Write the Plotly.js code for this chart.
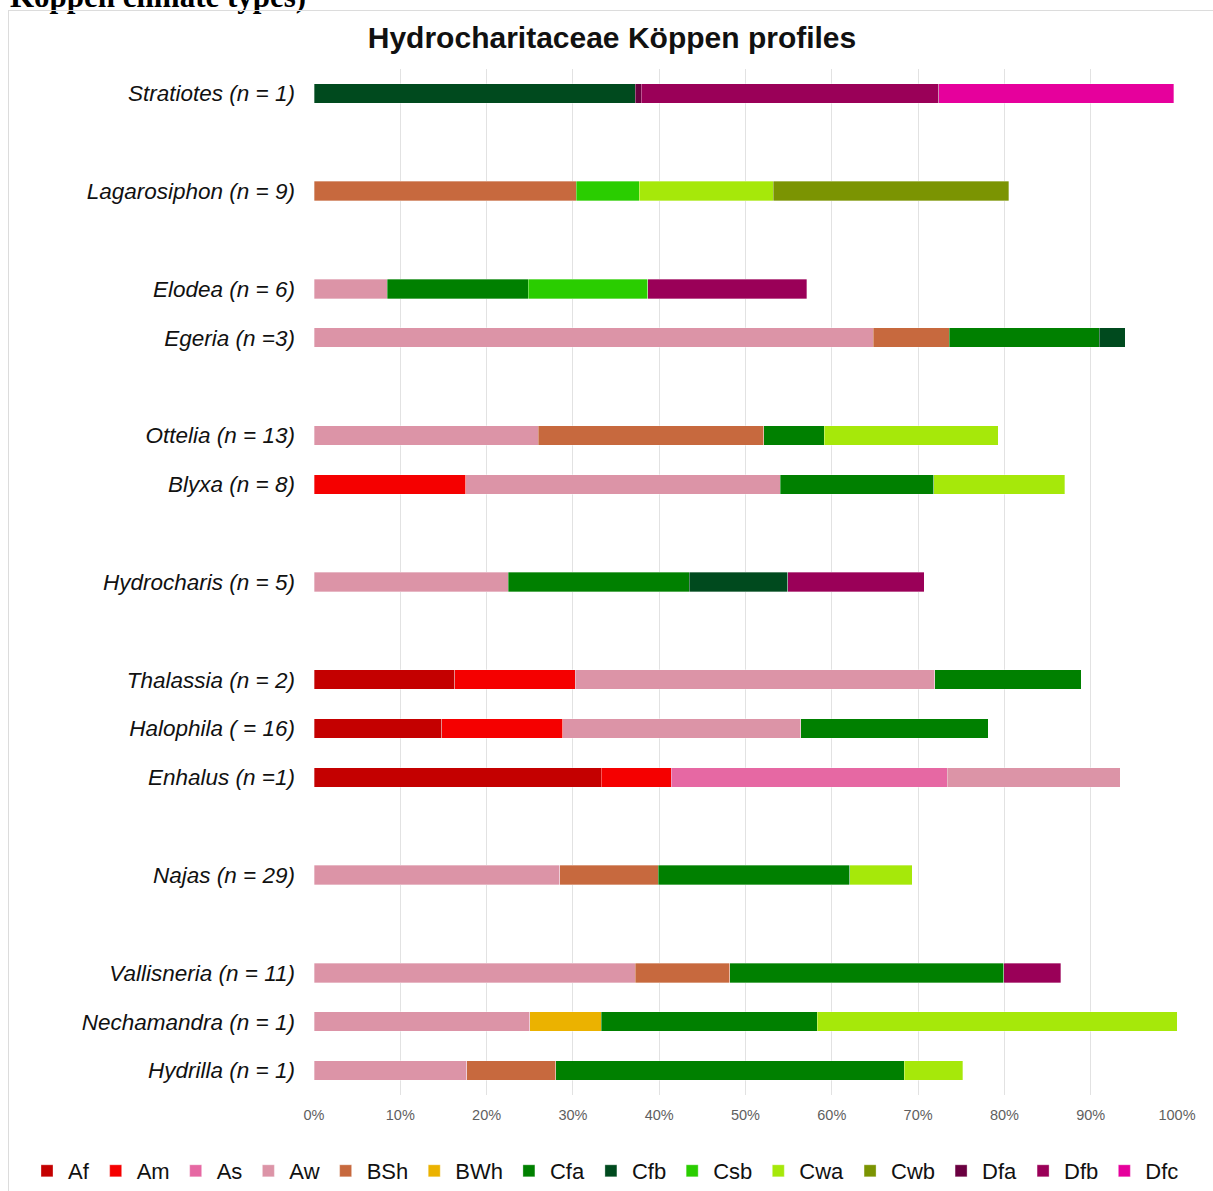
<!DOCTYPE html>
<html>
<head>
<meta charset="utf-8">
<script src="https://cdn.plot.ly/plotly-3.0.1.min.js"></script>
<style>
  html, body { margin: 0; padding: 0; background: #ffffff; overflow: hidden; }
  #wrap { position: relative; width: 1213px; height: 1191px; }
  #frame { position: absolute; left: 8px; top: 10px; width: 1220px; height: 1200px; border: 1px solid #dcdcdc; box-sizing: border-box; pointer-events: none; }
  #chart { position: absolute; left: 0; top: 0; width: 1213px; height: 1191px; }
</style>
</head>
<body>
<div id="wrap">
  <div id="chart"></div>
  <div id="frame"></div>
</div>
<script>
// Row labels, top to bottom ("" = empty spacer row)
const categories = [
  "Stratiotes (n = 1)", "", "Lagarosiphon (n = 9)", "", "Elodea (n = 6)", "Egeria (n =3)", "",
  "Ottelia (n = 13)", "Blyxa (n = 8)", "", "Hydrocharis (n = 5)", "",
  "Thalassia (n = 2)", "Halophila ( = 16)", "Enhalus (n =1)", "", "Najas (n = 29)", "",
  "Vallisneria (n = 11)", "Nechamandra (n = 1)", "Hydrilla (n = 1)"
];

// Percent of occurrences per Köppen class, one value per row above
const Af  = [null,null,null,null,null,null,null,null,null,null,null,null,16.3,14.8,33.3,null,null,null,null,null,null];
const Am  = [null,null,null,null,null,null,null,null,17.6,null,null,null,14.0,14.0,8.1,null,null,null,null,null,null];
const As  = [null,null,null,null,null,null,null,null,null,null,null,null,null,null,32.0,null,null,null,null,null,null];
const Aw  = [null,null,null,null,8.5,64.8,null,26.0,36.4,null,22.5,null,41.6,27.6,20.0,null,28.5,null,37.2,25.0,17.7];
const BSh = [null,null,30.4,null,null,8.8,null,26.1,null,null,null,null,null,null,null,null,11.4,null,11.0,null,10.3];
const BWh = [null,null,null,null,null,null,null,null,null,null,null,null,null,null,null,null,null,null,null,8.3,null];
const Cfa = [null,null,null,null,16.3,17.4,null,7.0,17.8,null,21.0,null,17.0,21.7,null,null,22.2,null,31.7,25.0,40.4];
const Cfb = [37.2,null,null,null,null,3.0,null,null,null,null,11.4,null,null,null,null,null,null,null,null,null,null];
const Csb = [null,null,7.3,null,13.9,null,null,null,null,null,null,null,null,null,null,null,null,null,null,null,null];
const Cwa = [null,null,15.5,null,null,null,null,20.2,15.2,null,null,null,null,null,null,null,7.2,null,null,41.7,6.8];
const Cwb = [null,null,27.3,null,null,null,null,null,null,null,null,null,null,null,null,null,null,null,null,null,null];
const Dfa = [0.7,null,null,null,null,null,null,null,null,null,null,null,null,null,null,null,null,null,null,null,null];
const Dfb = [34.5,null,null,null,18.4,null,null,null,null,null,15.8,null,null,null,null,null,null,null,6.6,null,null];
const Dfc = [27.2,null,null,null,null,null,null,null,null,null,null,null,null,null,null,null,null,null,null,null,null];

const seriesNames = ["Af","Am","As","Aw","BSh","BWh","Cfa","Cfb","Csb","Cwa","Cwb","Dfa","Dfb","Dfc"];
const seriesValues = [Af, Am, As, Aw, BSh, BWh, Cfa, Cfb, Csb, Cwa, Cwb, Dfa, Dfb, Dfc];
const seriesColors = ["#C40000","#F50000","#E668A3","#DC94A7","#C7693E","#EBB200","#008000","#004A1E",
                      "#2ACD00","#A6E80A","#7B9402","#6A0040","#9A0058","#E6009C"];

const xTicks = [0,10,20,30,40,50,60,70,80,90,100];

const rowPos = categories.map((c, i) => i);
const labelPos = rowPos.filter(i => categories[i] !== "");
const labelText = labelPos.map(i => "<i>" + categories[i] + "</i>");

const traces = seriesNames.map((name, k) => ({
  type: "bar",
  orientation: "h",
  name: name,
  x: seriesValues[k],
  y: rowPos,
  width: 0.4,
  marker: { color: seriesColors[k], line: { width: 0.6, color: "rgba(255,255,255,0.55)" } },
  hoverinfo: "x+name"
}));

const W = 1213, H = 1191;
const M = { l: 314, r: 36, t: 69, b: 96, autoexpand: false };
const plotH = H - M.t - M.b;
const plotW = W - M.l - M.r;
const px2paperX = p => (p - M.l) / plotW;
const px2paperY = p => (H - M.b - p) / plotH;

const layout = {
  width: W, height: H,
  margin: M,
  barmode: "stack",
  paper_bgcolor: "rgba(0,0,0,0)",
  plot_bgcolor: "rgba(0,0,0,0)",
  font: { family: "Liberation Sans, Arial, sans-serif", color: "#000" },
  title: {
    text: "<b>Hydrocharitaceae Köppen profiles</b>",
    font: { size: 30, family: "Liberation Sans, Arial, sans-serif", color: "#111" },
    xref: "container", yref: "container",
    x: 612 / W, xanchor: "center",
    y: 1 - 37 / H, yanchor: "middle"
  },
  xaxis: {
    range: [0, 100],
    tickvals: xTicks,
    ticktext: xTicks.map(v => v + "%"),
    showgrid: true, gridcolor: "#e2e2e2", gridwidth: 1,
    zeroline: false, showline: false,
    ticks: "", ticklabelstandoff: 9,
    tickfont: { size: 14.5, color: "#5f5f5f" },
    fixedrange: true
  },
  yaxis: {
    range: [categories.length - 0.5, -0.5],
    tickvals: labelPos,
    ticktext: labelText,
    showgrid: false, zeroline: false, showline: false,
    ticks: "", ticklabelstandoff: 18,
    tickfont: { size: 22.5, color: "#111" },
    fixedrange: true
  },
  showlegend: true,
  legend: {
    orientation: "h",
    traceorder: "normal",
    itemwidth: 32,
    x: px2paperX(26), xanchor: "left",
    y: px2paperY(1171), yanchor: "middle",
    font: { size: 22, color: "#111" },
    bgcolor: "rgba(0,0,0,0)"
  },
  annotations: [{
    text: "<b>Köppen climate types)</b>",
    xref: "paper", yref: "paper",
    x: px2paperX(8), xanchor: "left",
    y: px2paperY(16), yanchor: "bottom",
    showarrow: false,
    font: { family: "Liberation Serif, Times New Roman, serif", size: 31, color: "#000" }
  }]
};

Plotly.newPlot("chart", traces, layout, { displayModeBar: false, staticPlot: true });
</script>
</body>
</html>
